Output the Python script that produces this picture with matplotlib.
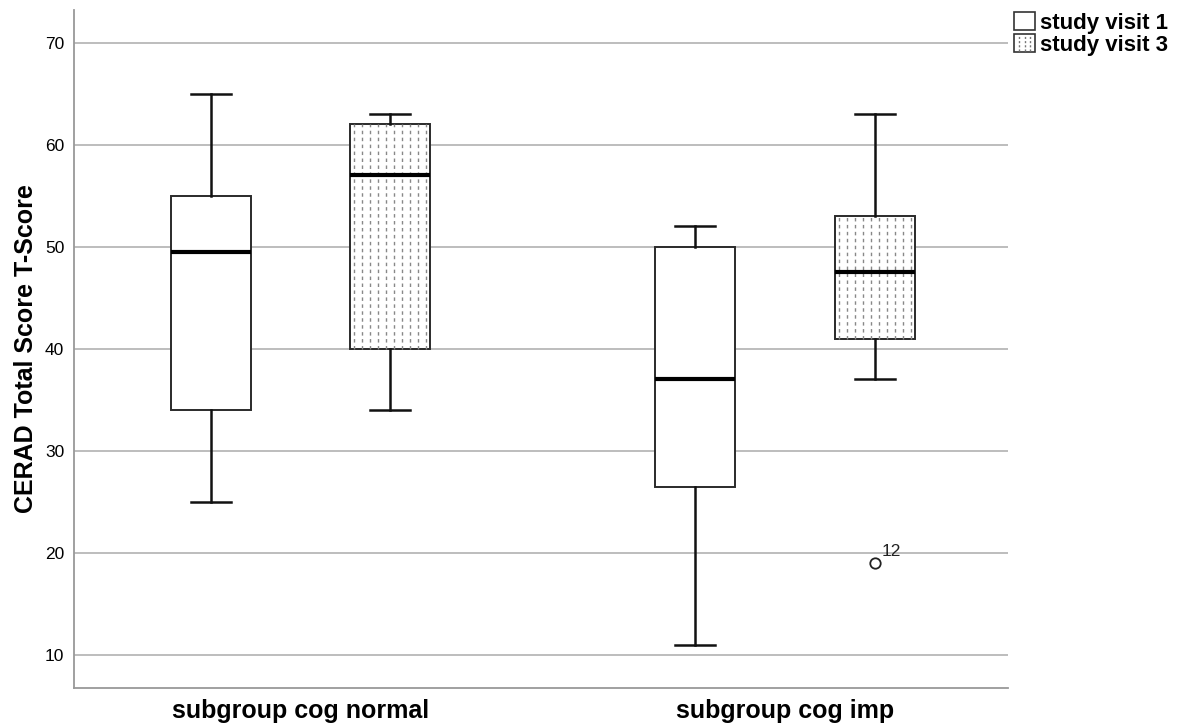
import matplotlib
matplotlib.use("Agg")
import matplotlib.pyplot as plt
from matplotlib.patches import Rectangle
from matplotlib.legend_handler import HandlerPatch
from matplotlib.lines import Line2D

plt.rcParams['font.family'] = ['Liberation Sans', 'DejaVu Sans']

groups = ["subgroup cog normal", "subgroup cog imp"]
series = ["study visit 1", "study visit 3"]
# [low whisker, Q1, median, Q3, high whisker]
v1_stats = [[25, 34, 49.5, 55, 65], [11, 26.5, 37, 50, 52]]
v3_stats = [[34, 40, 57, 62, 63], [37, 41, 47.5, 53, 63]]
v1_outliers = [[], []]
v3_outliers = [[], [19]]
v3_outlier_labels = [[], ["12"]]
yticks = [10, 20, 30, 40, 50, 60, 70]

fig = plt.figure(figsize=(11.84, 7.28), dpi=100)
ax = fig.add_axes([74/1184, 40/728, (1008-74)/1184, (688-10)/728])

offset = 0.185
width = 0.165

def make_stats(s, outl):
    return dict(whislo=s[0], q1=s[1], med=s[2], q3=s[3], whishi=s[4], fliers=outl)

ax.set_axisbelow(True)
ax.yaxis.grid(True, color='#bdbdbd', linewidth=1.4)

boxprops = dict(edgecolor='#2a2a2a', linewidth=1.4, facecolor='white')
whiskerprops = dict(color='#111111', linewidth=1.8)
capprops = dict(color='#111111', linewidth=1.8)
medianprops = dict(color='black', linewidth=3)
flierprops = dict(marker='o', markerfacecolor='white', markeredgecolor='#222222', markersize=7.5, markeredgewidth=1.3)

for gi in range(len(groups)):
    for si, (stats_list, outl_list) in enumerate([(v1_stats, v1_outliers), (v3_stats, v3_outliers)]):
        pos = gi + (-offset if si == 0 else offset)
        st = make_stats(stats_list[gi], outl_list[gi])
        res = ax.bxp([st], positions=[pos], widths=width, patch_artist=True,
                     boxprops=boxprops, whiskerprops=whiskerprops, capprops=capprops,
                     medianprops=medianprops, flierprops=flierprops, manage_ticks=False)
        if si == 1:
            q1, q3 = stats_list[gi][1], stats_list[gi][3]
            n = 10
            xs = [pos - width/2 + (k + 0.5) * width / n for k in range(n)]
            ax.vlines(xs, q1, q3, colors='#888888', linewidth=1.0,
                      linestyles=(0, (2.5, 2.5)), zorder=2.5)
            for b in res['boxes']:
                b.set_zorder(2)
            for m in res['medians']:
                m.set_zorder(3)
            for k, val in enumerate(outl_list[gi]):
                ax.annotate(v3_outlier_labels[gi][k], (pos, val), xytext=(5, 5),
                            textcoords='offset points', fontsize=12.5, color='#222222')

ax.set_xlim(-0.4675, 1.460)
ax.set_ylim(6.76, 73.2)
ax.set_yticks(yticks)
ax.set_xticks(range(len(groups)))
ax.set_xticklabels(groups, fontsize=18, fontweight='bold')
ax.tick_params(axis='both', length=0)
ax.tick_params(axis='y', labelsize=12.5, pad=7)
ax.tick_params(axis='x', pad=8)
ax.set_ylabel("CERAD Total Score T-Score", fontsize=18, fontweight='bold', labelpad=5)
for sp in ['top', 'right']:
    ax.spines[sp].set_visible(False)
for sp in ['left', 'bottom']:
    ax.spines[sp].set_color('#999999')
    ax.spines[sp].set_linewidth(1.3)


class DottedHandler(HandlerPatch):
    def create_artists(self, legend, orig_handle, xdescent, ydescent, width, height, fontsize, trans):
        r = Rectangle((-xdescent, -ydescent), width, height, facecolor='white',
                      edgecolor='#333333', linewidth=1.2, transform=trans)
        arts = [r]
        for k in range(3):
            x = -xdescent + (k + 1) * width / 4
            arts.append(Line2D([x, x], [-ydescent + 1, -ydescent + height - 1], color='#777777',
                               linewidth=1.0, linestyle=(0, (1.5, 1.5)), transform=trans))
        return arts


h1 = Rectangle((0, 0), 1, 1, facecolor='white', edgecolor='#333333', linewidth=1.2)
h3 = Rectangle((0, 0), 1, 1, facecolor='white', edgecolor='#333333', linewidth=1.2)
leg = fig.legend([h1, h3], series, loc='upper left', bbox_to_anchor=(1014/1184, 1 - 12/728),
                 frameon=False, prop=dict(size=16, weight='bold'), handlelength=0.95, handleheight=0.9,
                 handletextpad=0.2, labelspacing=0.0, borderaxespad=0, borderpad=0,
                 handler_map={h3: DottedHandler()})

fig.savefig("out.png", dpi=100)
